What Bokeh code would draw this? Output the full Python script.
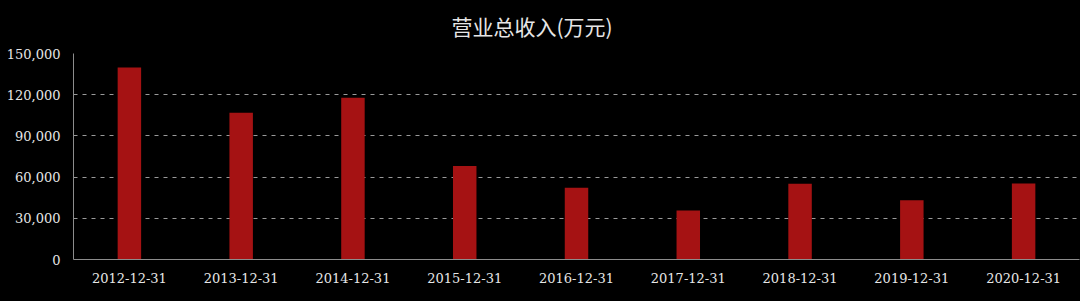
from bokeh.plotting import figure
from bokeh.models import FactorRange, Range1d, NumeralTickFormatter, FixedTicker
from bokeh.embed import file_html
from bokeh.resources import INLINE

dates = ["2012-12-31", "2013-12-31", "2014-12-31", "2015-12-31", "2016-12-31",
         "2017-12-31", "2018-12-31", "2019-12-31", "2020-12-31"]
revenue = [139800, 106900, 117800, 68000, 52200, 35600, 55100, 43200, 55400]
y_ticks = [0, 30000, 60000, 90000, 120000, 150000]

p = figure(width=1080, height=301, x_range=FactorRange(*dates, range_padding=0),
           y_range=Range1d(0, 150000), output_backend="svg", toolbar_location=None,
           background_fill_color="black", border_fill_color="black",
           min_border_left=73, min_border_right=1, min_border_bottom=42, min_border_top=0)
p.styles = {"background-color": "black"}

p.title.text = "营业总收入(万元)"
p.title.align = "left"
p.title.offset = 378
p.title.standoff = 21
p.title.vertical_align = "top"
p.title.text_color = "#e6e6e6"
p.title.text_font = "Noto Sans CJK SC"
p.title.text_font_size = "21px"
p.title.text_font_style = "normal"

p.vbar(x=dates, top=revenue, width=0.21, color="#a51213", line_color=None)

p.outline_line_color = None
p.xgrid.grid_line_color = None
p.ygrid.grid_line_color = "#9a9a9a"
p.ygrid.grid_line_dash = "4 5"
p.ygrid.grid_line_width = 1
p.yaxis.ticker = FixedTicker(ticks=y_ticks)
p.yaxis.formatter = NumeralTickFormatter(format="0,0")

for ax in (p.xaxis[0], p.yaxis[0]):
    ax.axis_line_color = "#8c8c8c"
    ax.axis_line_width = 1
    ax.major_tick_line_color = None
    ax.minor_tick_line_color = None
    ax.major_label_text_color = "#e6e6e6"
    ax.major_label_text_font = "DejaVu Serif"
    ax.major_label_text_font_size = "13px"

p.xaxis.major_label_standoff = 7
p.yaxis.major_label_standoff = 7

open("out.html", "w").write(file_html(p, INLINE))
